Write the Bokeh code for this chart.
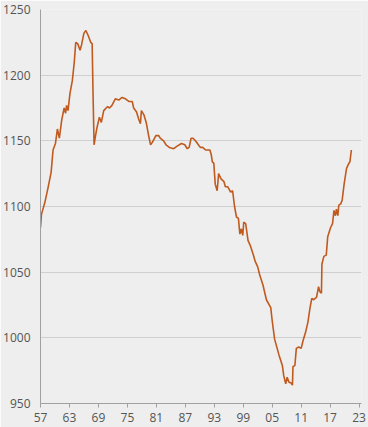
from bokeh.plotting import figure
from bokeh.models import FixedTicker, Range1d
from bokeh.embed import file_html
from bokeh.resources import INLINE

years = [1957.0, 1957.2, 1957.9, 1958.6, 1959.2, 1959.6, 1960.1, 1960.5, 1960.9, 1961.4,
         1961.9, 1962.2, 1962.4, 1962.7, 1963.1, 1963.6, 1964.0, 1964.3, 1964.7, 1965.2,
         1965.5, 1966.0, 1966.4, 1966.9, 1967.4, 1967.7, 1967.9, 1968.1, 1968.4, 1968.7,
         1969.2, 1969.6, 1970.1, 1970.6, 1970.9, 1971.3, 1971.8, 1972.5, 1973.2, 1973.9,
         1974.6, 1975.3, 1976.0, 1976.3, 1976.9, 1977.3, 1977.7, 1977.9, 1978.4, 1978.9,
         1979.4, 1979.8, 1980.2, 1980.9, 1981.5, 1981.8, 1982.5, 1983.0, 1983.7, 1984.6,
         1985.3, 1986.2, 1986.9, 1987.4, 1987.8, 1988.2, 1988.6, 1989.1, 1989.7, 1990.1,
         1990.6, 1991.2, 1991.7, 1992.1, 1992.4, 1992.6, 1992.9, 1993.2, 1993.6, 1993.9,
         1994.4, 1995.0, 1995.3, 1995.8, 1996.4, 1996.8, 1997.2, 1997.6, 1998.0, 1998.3,
         1998.6, 1998.9, 1999.1, 1999.5, 2000.0, 2000.5, 2001.1, 2001.5, 2002.0, 2002.4,
         2003.1, 2003.8, 2004.7, 2005.0, 2005.5, 2006.4, 2007.1, 2007.4, 2007.8, 2008.1,
         2008.5, 2008.8, 2009.2, 2009.3, 2009.7, 2010.0, 2010.5, 2011.0, 2011.4, 2011.9,
         2012.4, 2012.8, 2013.2, 2013.6, 2014.2, 2014.6, 2014.9, 2015.2, 2015.3, 2015.7,
         2016.2, 2016.5, 2017.1, 2017.5, 2017.8, 2018.1, 2018.3, 2018.6, 2018.8, 2019.2,
         2019.5, 2019.9, 2020.4, 2020.9, 2021.1, 2021.4]

values = [1084, 1094, 1103, 1115, 1126, 1143, 1148, 1159, 1152, 1166,
          1175, 1171, 1177, 1173, 1186, 1196, 1210, 1225, 1224, 1219,
          1223, 1232, 1234, 1230, 1225, 1224, 1183, 1147, 1154, 1160,
          1168, 1164, 1173, 1175, 1176, 1175, 1177, 1182, 1181, 1183,
          1182, 1180, 1180, 1175, 1172, 1167, 1163, 1173, 1170, 1164,
          1154, 1147, 1149, 1154, 1154, 1152, 1150, 1147, 1145, 1144,
          1146, 1148, 1147, 1144, 1145, 1152, 1152, 1150, 1147, 1145,
          1145, 1143, 1143, 1143, 1139, 1134, 1133, 1117, 1112, 1125,
          1121, 1119, 1115, 1115, 1111, 1112, 1100, 1092, 1091, 1079,
          1083, 1078, 1088, 1087, 1074, 1070, 1063, 1058, 1054, 1048,
          1040, 1029, 1023, 1013, 999, 987, 979, 971, 965, 970,
          966, 966, 964, 978, 979, 992, 993, 992, 998, 1004,
          1012, 1022, 1030, 1029, 1031, 1039, 1035, 1034, 1056, 1062,
          1063, 1077, 1084, 1087, 1097, 1093, 1098, 1093, 1101, 1102,
          1105, 1117, 1129, 1133, 1134, 1143]

x_ticks = [1957, 1963, 1969, 1975, 1981, 1987, 1993, 1999, 2005, 2011, 2017, 2023]
x_tick_labels = ["57", "63", "69", "75", "81", "87", "93", "99", "05", "11", "17", "23"]
y_ticks = [950, 1000, 1050, 1100, 1150, 1200, 1250]

BG = "#eeeeee"
p = figure(width=368, height=427, output_backend="svg", toolbar_location=None,
           x_range=Range1d(1957, 2023.5), y_range=Range1d(950, 1250),
           min_border_left=40, min_border_right=7, min_border_top=9, min_border_bottom=24)
p.background_fill_color = BG
p.border_fill_color = BG
p.outline_line_color = None

p.line(years, values, line_color="#c05a1f", line_width=1.6)

p.xaxis.ticker = FixedTicker(ticks=x_ticks)
p.xaxis.major_label_overrides = {t: l for t, l in zip(x_ticks, x_tick_labels)}
p.yaxis.ticker = FixedTicker(ticks=y_ticks)
p.xgrid.grid_line_color = None
p.ygrid.grid_line_color = "#cfcfcf"
p.ygrid.grid_line_width = 1

for ax in (p.xaxis, p.yaxis):
    ax.axis_line_color = "#a0a0a0"
    ax.major_tick_line_color = "#a0a0a0"
    ax.minor_tick_line_color = None
    ax.major_label_text_font = "Open Sans"
    ax.major_label_text_font_size = "12px"
    ax.major_label_text_color = "#555555"

p.xaxis.major_tick_out = 4
p.xaxis.major_tick_in = 0
p.xaxis.major_label_standoff = 5
p.yaxis.major_tick_out = 0
p.yaxis.major_tick_in = 0
p.yaxis.major_label_standoff = 10

open("out.html", "w").write(file_html(p, INLINE))
